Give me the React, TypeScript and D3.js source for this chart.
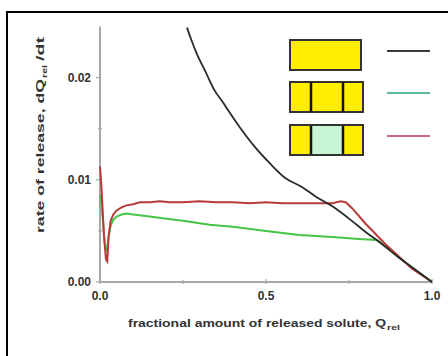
import React from "react";
import * as d3 from "d3";

const blackX = [0.262, 0.275, 0.292, 0.316, 0.346, 0.37, 0.386, 0.422, 0.467, 0.512, 0.557, 0.608, 0.648, 0.7, 0.75, 0.8, 0.85, 0.9, 0.95, 1.0];
const blackY = [0.0249, 0.0237, 0.0223, 0.0207, 0.0187, 0.0176, 0.0168, 0.0151, 0.0132, 0.0116, 0.0102, 0.0093, 0.0084, 0.0074, 0.0062, 0.0049, 0.0037, 0.0024, 0.0012, 0.0];

const greenX = [0.0, 0.005, 0.01, 0.015, 0.02, 0.025, 0.032, 0.04, 0.05, 0.065, 0.08, 0.1, 0.15, 0.2, 0.25, 0.33, 0.4, 0.5, 0.6, 0.7, 0.78, 0.834, 0.86, 0.9, 0.95, 1.0];
const greenY = [0.0085, 0.0075, 0.0055, 0.0035, 0.003, 0.0042, 0.0055, 0.0061, 0.0064, 0.0066, 0.0067, 0.0066, 0.0064, 0.0062, 0.006, 0.0056, 0.0054, 0.005, 0.0046, 0.0044, 0.0042, 0.0041, 0.0035, 0.0024, 0.0012, 0.0];

const redX = [0.0, 0.004, 0.008, 0.012, 0.018, 0.022, 0.026, 0.032, 0.04, 0.05, 0.065, 0.08, 0.1, 0.12, 0.15, 0.18, 0.21, 0.25, 0.3, 0.35, 0.4, 0.45, 0.5, 0.55, 0.6, 0.65, 0.7, 0.725, 0.74, 0.76, 0.8, 0.86, 0.94, 1.0];
const redY = [0.0113, 0.0095, 0.007, 0.0045, 0.0022, 0.002, 0.0045, 0.006, 0.0066, 0.007, 0.0073, 0.0075, 0.0076, 0.0078, 0.0078, 0.0079, 0.0078, 0.0078, 0.0079, 0.0078, 0.0078, 0.0077, 0.0078, 0.0077, 0.0077, 0.0077, 0.0077, 0.0079, 0.0078, 0.0072, 0.0057, 0.0037, 0.0013, 0.0];

const yMajorTicks = [0, 0.01, 0.02];
const yTickLabels = ["0.00", "0.01", "0.02"];
const yMinorTicks = [0.005, 0.015];
const xMajorTicks = [0, 0.5, 1.0];
const xTickLabels = ["0.0", "0.5", "1.0"];
const xMinorTicks = [0.25, 0.75];

export default function App() {
  const x = d3.scaleLinear().domain([0, 1]).range([100, 432]);
  const y = d3.scaleLinear().domain([0, 0.025]).range([282, 26.5]);
  const line = d3
    .line<[number, number]>()
    .x((d) => x(d[0]))
    .y((d) => y(d[1]));
  const smooth = d3
    .line<[number, number]>()
    .x((d) => x(d[0]))
    .y((d) => y(d[1]))
    .curve(d3.curveMonotoneX);
  const zip = (a: number[], b: number[]) => a.map((v, i) => [v, b[i]] as [number, number]);
  const font = "'Liberation Sans', Arial, sans-serif";
  const txt = "#333";
  const axisColor = "#a8a8a8";

  return (
    <svg
      width={448}
      height={356}
      style={{ position: "absolute", left: 0, top: 0, background: "#fff" }}
      fontFamily={font}
    >
      <rect x={0} y={0} width={448} height={356} fill="#fff" />
      <rect x={7} y={12} width={460} height={360} fill="none" stroke="#000" strokeWidth={2} />

      {/* axes */}
      <line x1={x(0)} x2={x(0)} y1={y(0.025)} y2={y(0) + 1} stroke={axisColor} strokeWidth={2} />
      <line x1={x(0) - 1} x2={x(1)} y1={y(0)} y2={y(0)} stroke={axisColor} strokeWidth={2} />
      {yMajorTicks.map((t, i) => (
        <g key={"ym" + i}>
          <line x1={x(0) - 4} x2={x(0)} y1={y(t)} y2={y(t)} stroke={axisColor} strokeWidth={1.2} />
          <text x={91} y={y(t) + 4} textAnchor="end" fontSize={12} fontWeight="bold" fill={txt}>
            {yTickLabels[i]}
          </text>
        </g>
      ))}
      {yMinorTicks.map((t, i) => (
        <line key={"yn" + i} x1={x(0) - 2} x2={x(0) + 2} y1={y(t)} y2={y(t)} stroke={axisColor} strokeWidth={1.2} />
      ))}
      {xMajorTicks.map((t, i) => (
        <g key={"xm" + i}>
          <line x1={x(t)} x2={x(t)} y1={y(0) - 3} y2={y(0) + 2} stroke={axisColor} strokeWidth={1.2} />
          <text x={x(t)} y={300} textAnchor="middle" fontSize={12} fontWeight="bold" fill={txt}>
            {xTickLabels[i]}
          </text>
        </g>
      ))}
      {xMinorTicks.map((t, i) => (
        <line key={"xn" + i} x1={x(t)} x2={x(t)} y1={y(0) - 2} y2={y(0) + 2} stroke={axisColor} strokeWidth={1.2} />
      ))}

      {/* axis titles */}
      <text x={128} y={327} fontSize={11.5} fontWeight="bold" fill={txt} textLength={258} lengthAdjust="spacingAndGlyphs">
        fractional amount of released solute, Q
      </text>
      <text x={387} y={330} fontSize={8} fontWeight="bold" fill={txt} textLength={13} lengthAdjust="spacingAndGlyphs">
        rel
      </text>
      <g transform="translate(44,233) rotate(-90)">
        <text x={0} y={0} fontSize={11.5} fontWeight="bold" fill={txt} textLength={154} lengthAdjust="spacingAndGlyphs">
          rate of release, dQ
        </text>
        <text x={155} y={3} fontSize={8} fontWeight="bold" fill={txt} textLength={13} lengthAdjust="spacingAndGlyphs">
          rel
        </text>
        <text x={172} y={0} fontSize={11.5} fontWeight="bold" fill={txt} textLength={24} lengthAdjust="spacingAndGlyphs">
          /dt
        </text>
      </g>

      {/* data */}
      <path d={line(zip(greenX, greenY)) || ""} fill="none" stroke="#44c444" strokeWidth={2} />
      <path d={line(zip(redX, redY)) || ""} fill="none" stroke="#b83a3a" strokeWidth={2} />
      <path d={smooth(zip(blackX, blackY)) || ""} fill="none" stroke="#2a2a2a" strokeWidth={1.8} />

      {/* legend */}
      <rect x={290} y={40} width={71} height={30} fill="#ffee00" stroke="#333" strokeWidth={2} />
      <rect x={290} y={82} width={73} height={30} fill="#ffee00" stroke="#333" strokeWidth={2} />
      <line x1={311} x2={311} y1={82} y2={112} stroke="#111" strokeWidth={2.5} />
      <line x1={343} x2={343} y1={82} y2={112} stroke="#111" strokeWidth={2.5} />
      <rect x={290} y={125} width={73} height={30} fill="#ffee00" stroke="#333" strokeWidth={2} />
      <rect x={311} y={125} width={32} height={30} fill="#c8f5d6" />
      <line x1={311} x2={311} y1={125} y2={155} stroke="#111" strokeWidth={2.5} />
      <line x1={343} x2={343} y1={125} y2={155} stroke="#111" strokeWidth={2.5} />
      <rect x={290} y={125} width={73} height={30} fill="none" stroke="#333" strokeWidth={2} />

      <line x1={387} x2={430} y1={51} y2={51} stroke="#3a3a3a" strokeWidth={2} />
      <line x1={387} x2={430} y1={93} y2={93} stroke="#5cb89a" strokeWidth={2} />
      <line x1={387} x2={430} y1={136} y2={136} stroke="#c0687e" strokeWidth={2} />
    </svg>
  );
}
